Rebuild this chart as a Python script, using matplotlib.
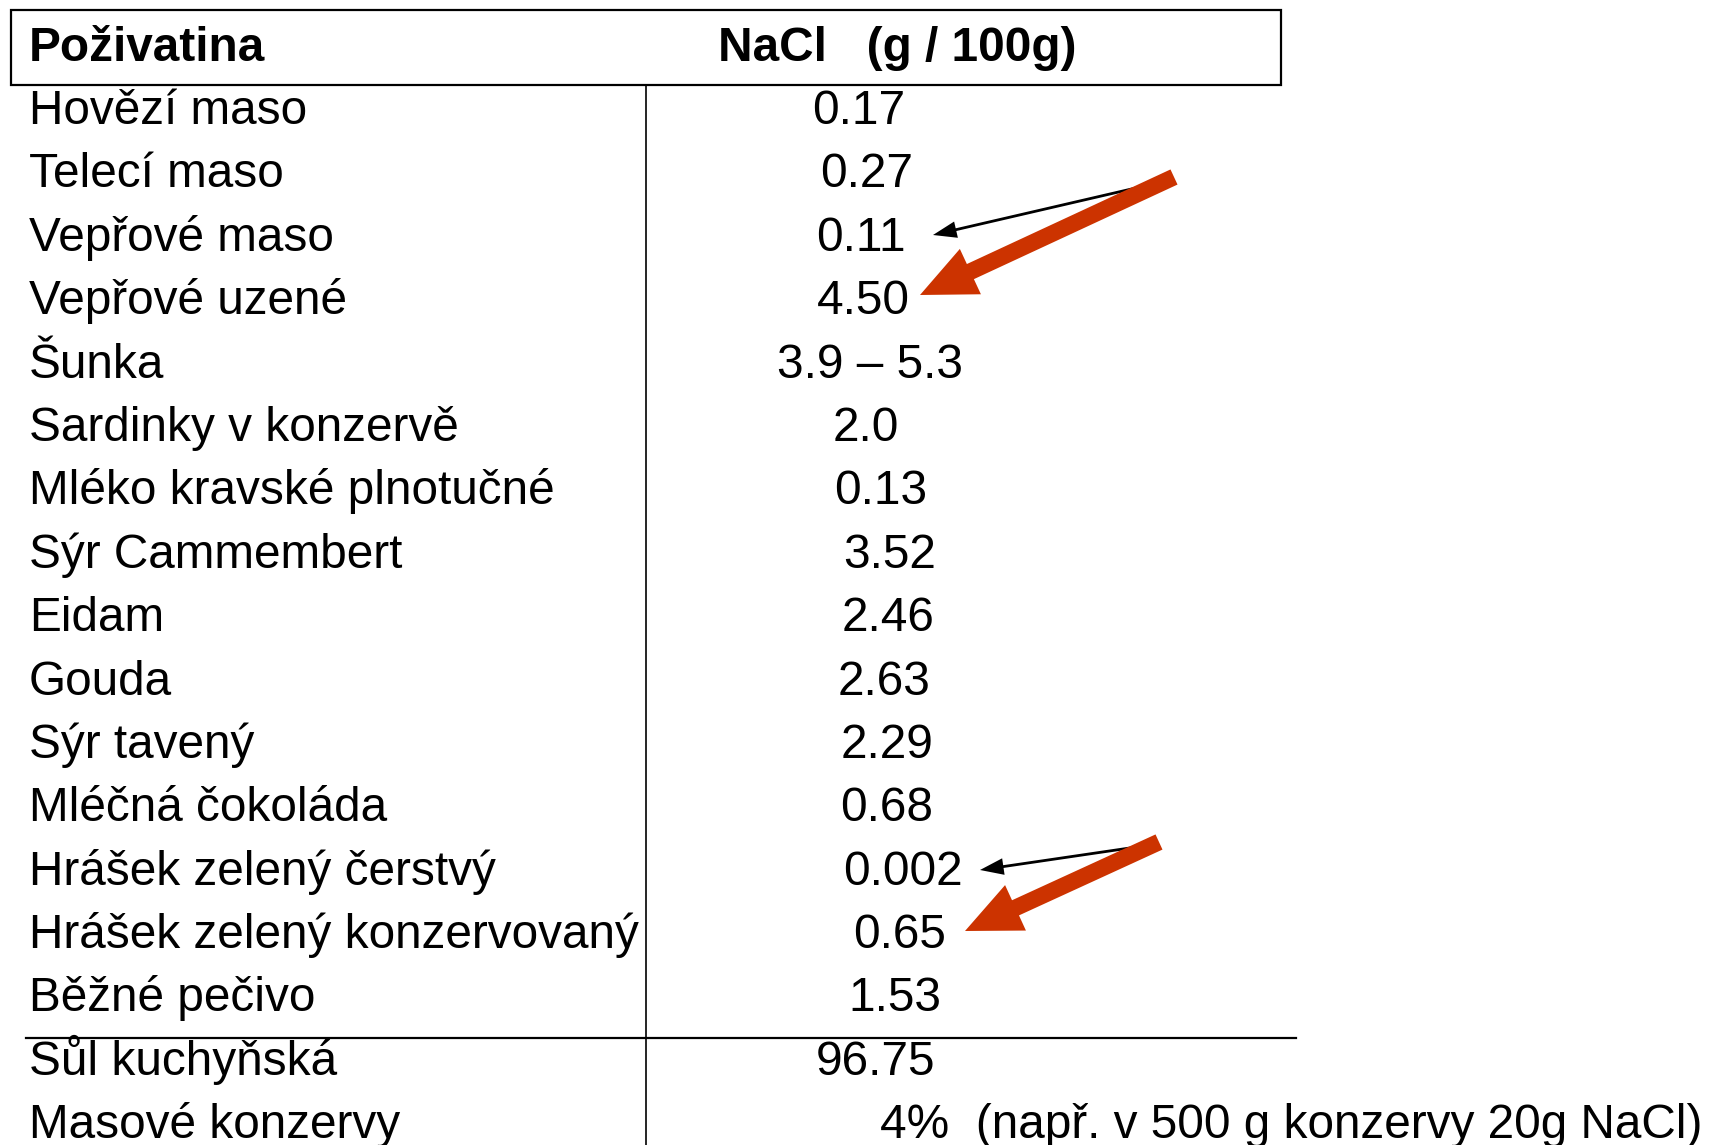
import matplotlib
matplotlib.use("Agg")
import matplotlib.pyplot as plt
from matplotlib.patches import Rectangle, FancyArrowPatch

plt.rcParams['font.family'] = ['Liberation Sans', 'DejaVu Sans']

header_left = "Poživatina"
header_right = "NaCl   (g / 100g)"
foods = ["Hovězí maso", "Telecí maso", "Vepřové maso", "Vepřové uzené", "Šunka",
         "Sardinky v konzervě", "Mléko kravské plnotučné", "Sýr Cammembert", "Eidam",
         "Gouda", "Sýr tavený", "Mléčná čokoláda", "Hrášek zelený čerstvý",
         "Hrášek zelený konzervovaný", "Běžné pečivo", "Sůl kuchyňská", "Masové konzervy"]
values = ["0.17", "0.27", "0.11", "4.50", "3.9 – 5.3", "2.0", "0.13", "3.52", "2.46",
          "2.63", "2.29", "0.68", "0.002", "0.65", "1.53", "96.75",
          "4%  (např. v 500 g konzervy 20g NaCl)"]

# layout (pixel positions of value centers, reference-specific)
val_x = [859, 867, 861, 863, 870, 866, 881, 890, 888, 884, 887, 887, 903, 900, 895, 876]
last_left = 880

W, H = 1712, 1145
fig = plt.figure(figsize=(W / 100, H / 100), dpi=100)
ax = fig.add_axes([0, 0, 1, 1])
ax.set_xlim(0, W)
ax.set_ylim(H, 0)
ax.axis('off')

fs = 34.4
row0 = 124
dy = 63.39

# header box
ax.add_patch(Rectangle((11, 10), 1270, 75, fill=False, lw=1.6, ec='black'))
ax.text(29, 61, header_left, fontsize=fs, fontweight='bold', va='baseline', ha='left')
ax.text(718, 61, header_right, fontsize=fs, fontweight='bold', va='baseline', ha='left')

# lines
ax.plot([646, 646], [85, 1145], color='black', lw=1.2)
ax.plot([26, 1296], [1038, 1038], color='black', lw=1.6)

for i, f in enumerate(foods):
    y = row0 + i * dy
    ax.text(29, y, f, fontsize=fs, va='baseline', ha='left')
    if i < len(val_x):
        ax.text(val_x[i], y, values[i], fontsize=fs, va='baseline', ha='center')
    else:
        ax.text(last_left, y, values[i], fontsize=fs, va='baseline', ha='left')

red = '#CC3300'
def arrow(p0, p1, color, hw, hl, tw):
    a = FancyArrowPatch(p0, p1,
                        arrowstyle=f'simple,head_width={hw},head_length={hl},tail_width={tw}',
                        fc=color, ec='none', lw=0, mutation_scale=1,
                        shrinkA=0, shrinkB=0)
    ax.add_patch(a)

arrow((1166, 181), (933, 235), 'black', 12, 17, 2)
arrow((1174, 177), (920, 295), red, 36, 40, 12)
arrow((1157, 844), (980, 870), 'black', 12, 17, 2)
arrow((1159, 842), (965, 931), red, 36, 40, 12)

fig.savefig('out.png', dpi=100)
